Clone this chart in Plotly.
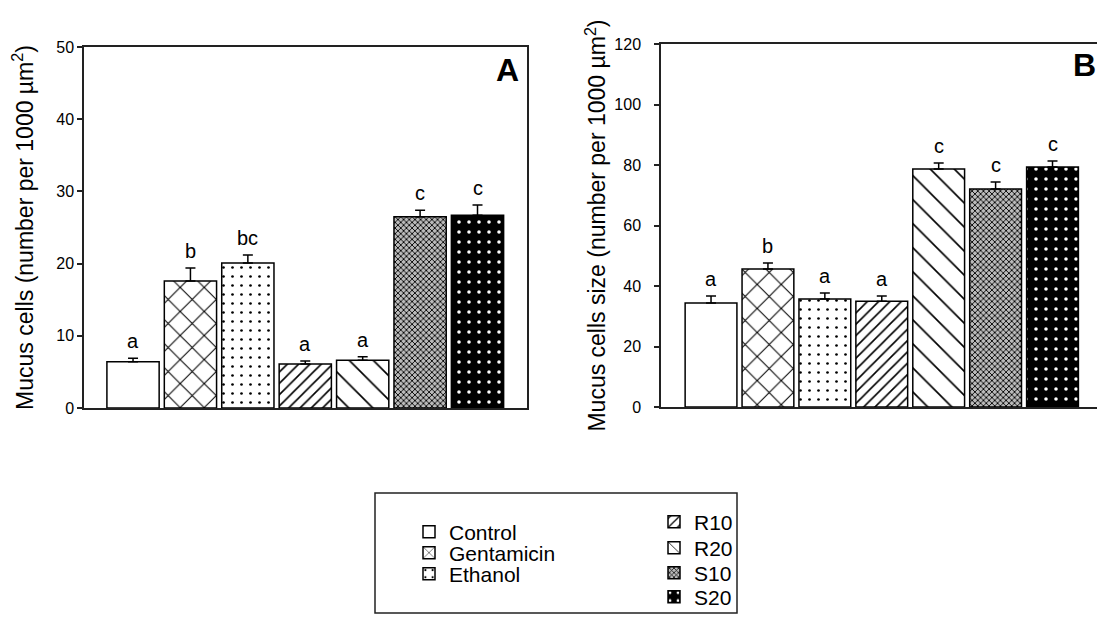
import plotly.graph_objects as go

# ---- data ----
categories = ["Control", "Gentamicin", "Ethanol", "R10", "R20", "S10", "S20"]
A_means = [6.4, 17.6, 20.1, 6.1, 6.6, 26.5, 26.7]
A_err = [0.5, 1.8, 1.1, 0.4, 0.5, 0.9, 1.4]
A_letters = ["a", "b", "bc", "a", "a", "c", "c"]
B_means = [34.4, 45.6, 35.7, 35.0, 78.7, 72.1, 79.3]
B_err = [2.3, 2.0, 2.0, 1.7, 2.0, 2.3, 2.0]
B_letters = ["a", "b", "a", "a", "c", "c", "c"]
A_ticks = [0, 10, 20, 30, 40, 50]
B_ticks = [0, 20, 40, 60, 80, 100, 120]

OFF = 8  # page body margin
W, H = 1105 - OFF, 619 - OFF
FONT = "Liberation Sans, Arial, sans-serif"


def px(x):
    return (x - OFF) / W


def py(y):
    return 1 - (y - OFF) / H


styles = [
    dict(color="white", pattern=dict(shape="")),
    dict(color="white", pattern=dict(shape="x", size=17, solidity=0.12, fgcolor="black", bgcolor="white", fillmode="replace")),
    dict(color="white", pattern=dict(shape=".", size=9, solidity=0.07, fgcolor="black", bgcolor="white", fillmode="replace")),
    dict(color="white", pattern=dict(shape="/", size=8, solidity=0.2, fgcolor="black", bgcolor="white", fillmode="replace")),
    dict(color="white", pattern=dict(shape="\\", size=17, solidity=0.1, fgcolor="black", bgcolor="white", fillmode="replace")),
    dict(color="#777777", pattern=dict(shape="x", size=4, solidity=0.4, fgcolor="black", bgcolor="#bbbbbb", fillmode="replace")),
    dict(color="black", pattern=dict(shape=".", size=10, solidity=0.1, fgcolor="white", bgcolor="black", fillmode="replace")),
]

legend_ids = ["legend", "legend2", "legend3", "legend4", "legend5", "legend6", "legend7"]
legend_pos = [(449, 532), (449, 553), (449, 574), (694, 522), (694, 548), (694, 573), (694, 597)]

fig = go.Figure()
for i, cat in enumerate(categories):
    st = styles[i]
    marker = dict(color=st["color"], line=dict(color="black", width=1.5), pattern=st["pattern"])
    fig.add_trace(go.Bar(
        x=[cat], y=[A_means[i]], width=0.91, name=cat,
        error_y=dict(type="data", array=[A_err[i]], arrayminus=[0], symmetric=False,
                     color="black", thickness=1.5, width=5),
        marker=marker, legend=legend_ids[i], legendgroup=cat, showlegend=True,
        xaxis="x", yaxis="y"))
    fig.add_trace(go.Bar(
        x=[cat], y=[B_means[i]], width=0.91, name=cat,
        error_y=dict(type="data", array=[B_err[i]], arrayminus=[0], symmetric=False,
                     color="black", thickness=1.5, width=5),
        marker=marker, legendgroup=cat, showlegend=False,
        xaxis="x2", yaxis="y2"))

annotations = []
for i, cat in enumerate(categories):
    annotations.append(dict(x=cat, y=A_means[i] + A_err[i], xref="x", yref="y", text=A_letters[i],
                            showarrow=False, yanchor="bottom", yshift=4,
                            font=dict(size=20, family=FONT, color="black")))
    annotations.append(dict(x=cat, y=B_means[i] + B_err[i], xref="x2", yref="y2", text=B_letters[i],
                            showarrow=False, yanchor="bottom", yshift=4,
                            font=dict(size=20, family=FONT, color="black")))
annotations.append(dict(x=px(507), y=py(70), xref="paper", yref="paper", text="<b>A</b>",
                        showarrow=False, xanchor="center", yanchor="middle",
                        font=dict(size=32, family=FONT, color="black")))
annotations.append(dict(x=px(1084), y=py(65), xref="paper", yref="paper", text="<b>B</b>",
                        showarrow=False, xanchor="center", yanchor="middle",
                        font=dict(size=32, family=FONT, color="black")))

axis_line = dict(showline=True, linecolor="#222222", linewidth=1.5, mirror=True,
                 showgrid=False, zeroline=False)

layout = dict(
    width=W, height=H, margin=dict(l=0, r=0, t=0, b=0),
    paper_bgcolor="white", plot_bgcolor="white",
    barmode="overlay", font=dict(family=FONT, color="black"),
    xaxis=dict(domain=[px(84), px(527)], range=[-0.854, 6.862], type="category",
               categoryorder="array", categoryarray=categories,
               showticklabels=False, ticks="", anchor="y", **axis_line),
    yaxis=dict(domain=[py(408), py(47)], range=[0, 50], tickvals=A_ticks,
               ticks="outside", ticklen=5, tickwidth=1.5, tickcolor="#222222",
               tickfont=dict(size=16, family=FONT, color="black"),
               title=dict(text="Mucus cells (number per 1000 µm<sup>2</sup>)",
                          font=dict(size=23, family=FONT, color="black"), standoff=29),
               anchor="x", automargin=False, **axis_line),
    xaxis2=dict(domain=[px(661), px(1101)], range=[-0.879, 6.852], type="category",
                categoryorder="array", categoryarray=categories,
                showticklabels=False, ticks="", anchor="y2", **axis_line),
    yaxis2=dict(domain=[py(407), py(44)], range=[0, 120], tickvals=B_ticks,
                ticks="outside", ticklen=5, tickwidth=1.5, tickcolor="#222222",
                tickfont=dict(size=16, family=FONT, color="black"),
                ticklabelstandoff=10,
                title=dict(text="Mucus cells size (number per 1000 µm<sup>2</sup>)",
                           font=dict(size=23, family=FONT, color="black"), standoff=2),
                anchor="x2", automargin=False, **axis_line),
    annotations=annotations,
    shapes=[dict(type="rect", xref="paper", yref="paper", x0=px(375), x1=px(737),
                 y0=py(613), y1=py(493), line=dict(color="#222222", width=1.5))],
)
for lid, (tx, ty) in zip(legend_ids, legend_pos):
    layout[lid] = dict(x=px(tx - 40), y=py(ty), xanchor="left", yanchor="middle",
                       bgcolor="rgba(0,0,0,0)", borderwidth=0,
                       font=dict(size=21, family=FONT, color="black"))

fig.update_layout(**layout)
fig.write_html("out.html")
